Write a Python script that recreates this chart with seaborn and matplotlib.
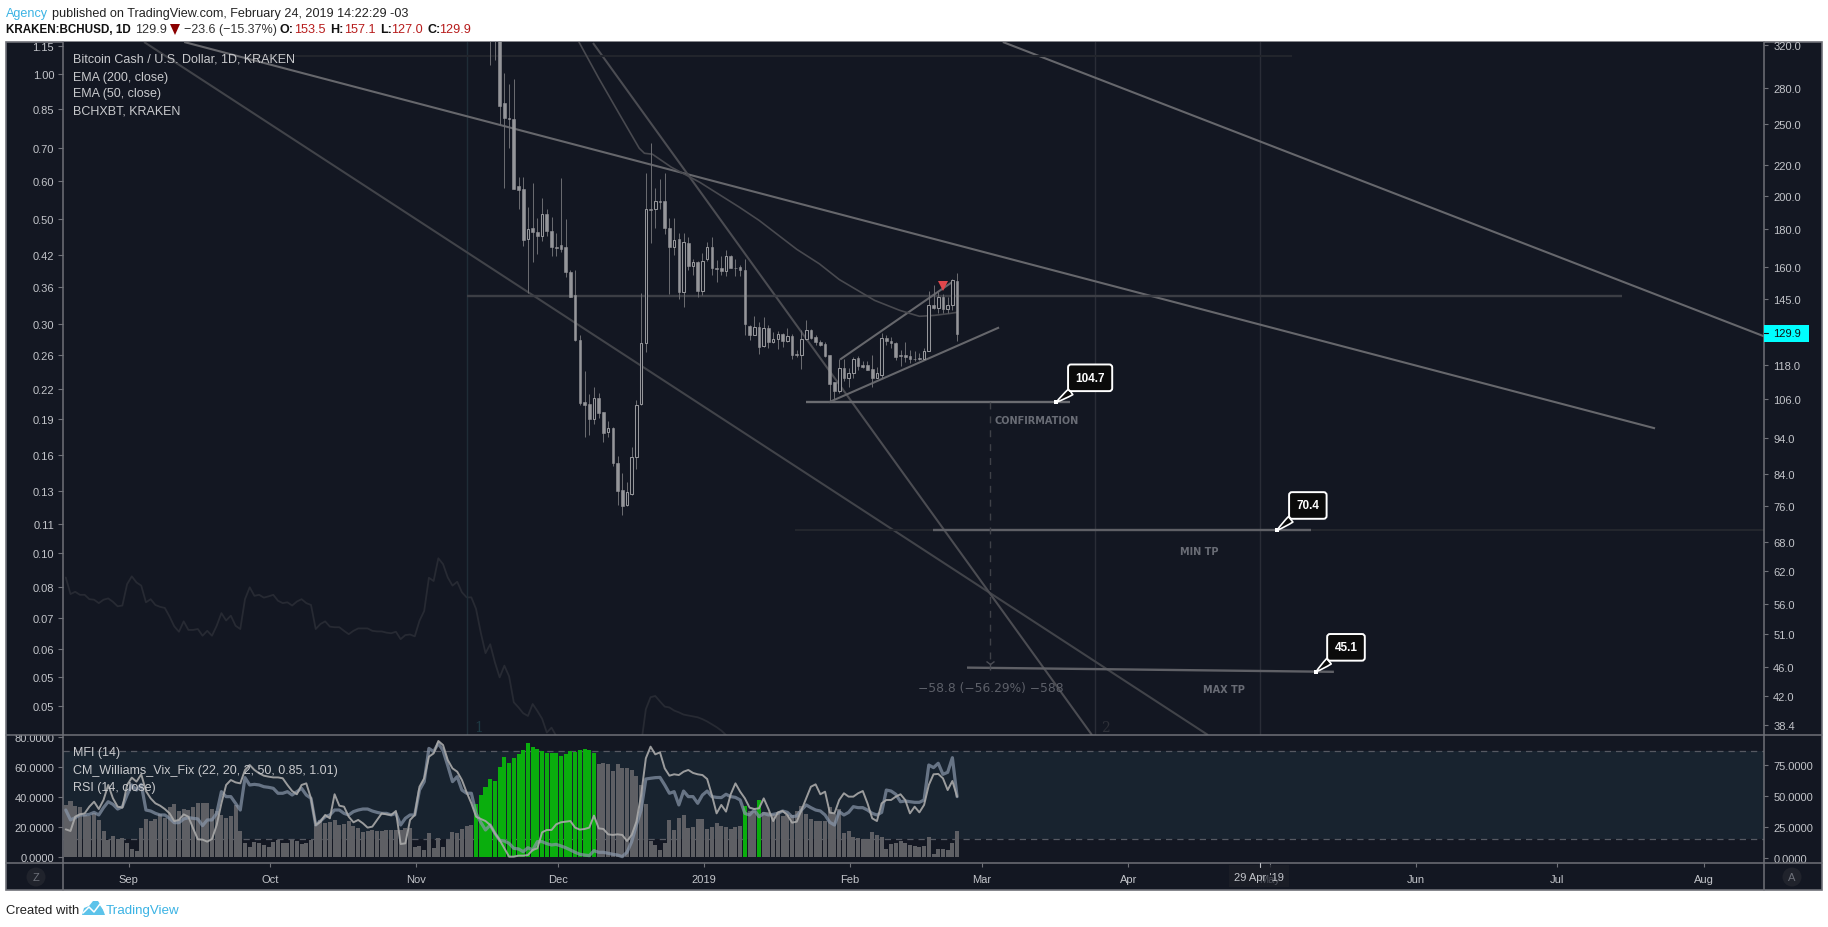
import numpy as np
import matplotlib
matplotlib.use('Agg')
import matplotlib.pyplot as plt
import seaborn as sns
from matplotlib.lines import Line2D
from matplotlib.patches import Rectangle, Polygon, Circle
from matplotlib.transforms import Affine2D, Bbox
from matplotlib.ticker import NullLocator

W, H = 1828, 928
BG = '#131722'
BAND = '#18232f'
FRAME = '#6f7178'
AXTXT = '#c3c5ca'
BLUE = '#3bb3e4'
RED = '#b71c1c'

# x values are days since 1 Sep 2018
TICK_DAYS = [0, 30, 61, 91, 122, 153, 181, 212, 242, 273, 303, 334]
TICK_NAMES = ['Sep', 'Oct', 'Nov', 'Dec', '2019', 'Feb', 'Mar', 'Apr', 'May', 'Jun', 'Jul', 'Aug']
FIRST_BAR_DAY = -13.3
FIRST_CANDLE = 90

RIGHT_TICKS = [320, 280, 250, 220, 200, 180, 160, 145, 118, 106, 94, 84, 76, 68, 62, 56, 51, 46, 42, 38.4]
LEFT_TICKS = [1.144, 1.0, 0.845, 0.70, 0.598, 0.498, 0.419, 0.359, 0.30, 0.259, 0.22, 0.19, 0.16, 0.135,
              0.115, 0.10, 0.085, 0.073, 0.063, 0.055, 0.048]
LEFT_LABELS = ['1.15', '1.00', '0.85', '0.70', '0.60', '0.50', '0.42', '0.36', '0.30', '0.26', '0.22', '0.19',
               '0.16', '0.13', '0.11', '0.10', '0.08', '0.07', '0.06', '0.05', '0.05']

OHLC = [
    (345, 360, 300.6, 330), (340, 355, 305, 325), (335, 340, 249, 264.6), (267, 293, 204.6, 255),
    (255, 283.4, 232, 254), (254, 288, 204.2, 204.5), (206.4, 211.9, 191.9, 203.6), (204, 212.3, 171.1, 174.2),
    (174.7, 193.3, 147.7, 180), (181, 207.9, 162.4, 178.7), (178.7, 186.7, 166.5, 176.3), (176.3, 198.4, 173.8, 189.1),
    (189.1, 191.7, 176.5, 179.1), (179.4, 187, 165.7, 170.4), (170.5, 177.8, 165.6, 170), (171.6, 211.2, 168, 169.3),
    (170.2, 185.7, 155, 157.4), (157.6, 158.4, 145.7, 146), (146.6, 158.4, 127.2, 127.5), (127.6, 129.6, 104.1, 104.9),
    (105.1, 115.8, 94.1, 104.1), (104.3, 107.8, 94.7, 99.8), (99.6, 110.1, 98, 106.4), (106.4, 108.1, 100, 101.6),
    (101.9, 102, 92.7, 95.5), (95.6, 99.1, 94.2, 97), (97, 97.2, 86.2, 87), (87, 88.9, 76.2, 79.7),
    (79.8, 84.3, 73.9, 76.1), (76.2, 82, 76.1, 79.3), (78.8, 91.3, 78.7, 88.6), (88.6, 105.7, 85.3, 104.1),
    (104.4, 147.7, 104.1, 126.2), (126.2, 214.4, 122.8, 192), (192, 235.5, 172.4, 191.2), (191.8, 204.6, 181, 196.5),
    (196.7, 210.5, 191.8, 196.3), (196.5, 214.4, 177.3, 180.6), (180.6, 186.4, 147.3, 170.4), (170.4, 186.4, 166, 174.3),
    (174.8, 177.8, 145.1, 147.9), (148, 177.8, 141.4, 173.1), (172.8, 176, 158.7, 160.4), (160.8, 164.3, 156, 162.7),
    (162.7, 163, 145.7, 148.5), (148.5, 167.5, 146.6, 163.2), (164.1, 173.1, 163.2, 170.5), (170.5, 176, 156, 159.5),
    (159.5, 163.5, 152.6, 159.2), (159.8, 165.6, 156, 158.2), (158.2, 168.6, 155.7, 165.7), (165.7, 166, 159.5, 159.8),
    (159.8, 164.3, 155.5, 159.6), (160.3, 161.1, 155.8, 158.5), (158.8, 164.3, 129.5, 134), (133.3, 133.6, 127.5, 129.5),
    (129.5, 137.5, 129.5, 132.9), (132.9, 134.8, 122, 124.7), (125, 137.1, 124.7, 132.5), (132.5, 133.6, 124.4, 126.7),
    (126.7, 130.8, 126.2, 127.9), (127.9, 131.3, 124.1, 130), (130, 130.5, 124.8, 127.1), (127.1, 132.2, 126.9, 129.2),
    (129.2, 130.1, 120, 121.8), (122, 123.7, 121, 121.5), (121.5, 131.5, 116.4, 127.9), (127.9, 135.6, 127.5, 131.5),
    (131.5, 131.9, 127.9, 128.2), (128.7, 129.5, 125.5, 126.6), (126.8, 127.5, 125.3, 125.5), (125.9, 126.6, 121, 121.3),
    (121.5, 121.6, 105.3, 111.2), (111.8, 111.8, 106.2, 108.7), (108.7, 120.1, 108.1, 116.9), (116.9, 120.3, 112.3, 113.1),
    (113.1, 116.7, 110.2, 114.9), (114.9, 121, 113.3, 120.1), (120.6, 121.2, 116.2, 117.5), (118.1, 119.6, 116.9, 117.4),
    (118.1, 119.5, 116.2, 116.3), (116.6, 121.6, 110, 113.4), (113.4, 117.3, 113.1, 114.9), (114.4, 130.3, 113.1, 128.3),
    (128.3, 129.6, 125.5, 127), (127.3, 128.7, 124.5, 126.2), (126.4, 126.7, 119.8, 120.9), (121.6, 123.5, 117.5, 121.2),
    (121.7, 126.6, 119.1, 121), (121.3, 123.5, 118.8, 120.1), (120.3, 123.4, 119.6, 120), (120.4, 122.3, 119.8, 120.1),
    (120.3, 124.5, 120.1, 123.2), (123.1, 148.8, 123.1, 142.2), (142.2, 151.5, 140.6, 141), (141, 148, 138.9, 145.6),
    (145.7, 147.2, 138.7, 140.6), (140.6, 145.7, 138.7, 142.4), (142.4, 154.1, 140, 153.8), (153.5, 157.1, 127, 129.9),
]

BCHXBT_HEAD = [
    .0889, .0821, .0830, .0818, .0818, .0801, .0799, .0786, .0799, .0804,
    .0791, .0774, .0777, .0861, .0894, .0868, .0855, .0789, .0801, .0779,
    .0772, .0768, .0737, .0703, .0685, .0720, .0691, .0691, .0694, .0672,
    .0688, .0672, .0705, .0749, .0723, .0740, .0705, .0694, .0801, .0848,
    .0814, .0818, .0807, .0812, .0818, .0795, .0786, .0789, .0777, .0792,
    .0801, .0786, .0779, .0694, .0711, .0720, .0702, .0700, .0700, .0688,
    .0677, .0688, .0696, .0696, .0696, .0688, .0686, .0686, .0682, .0680,
    .0685, .0661, .0674, .0676, .0670, .0722, .0757, .0888, .0874, .0975,
    .0948, .0889, .0855, .0871, .0828, .0808, .0808, .0764, .0682, .0618,
    .0645, .0591, .0550, .0582, .0553, .0488, .0476, .0463, .0457, .0484,
    .0468, .0451, .0422, .0432, .0415,
]
# the line runs below the pane between these two stretches
BCHXBT_TAIL_START = 122
BCHXBT_TAIL = [.0399, .0472, .0500, .0503, .0490, .0478, .0476, .0469, .0465, .0460,
               .0458, .0456, .0454, .0450, .0445, .0439, .0433, .0426, .0417]

EMA50_DAYS = [95.4, 99.7, 104.1, 108.3, 109.4, 111.1, 115.1, 121.1, 129.5, 133.7, 141.7, 146.5, 150.7, 158.2, 163.5,
              167.7, 170.9, 174.1, 175.7]
EMA50 = [324, 288.6, 257.9, 231.9, 228.3, 227.6, 218.6, 208.6, 193, 185.2, 169.2, 161.7, 154, 144.3, 139.9, 137.3,
         137.7, 138.5, 139]

VIX = [
    34.9, 37.1, 33.8, 33.1, 27.8, 26.9, 29.5, 24.7, 17.1, 10.9,
    13.8, 11.8, 12.4, 8.9, 4.9, 3.5, 19.1, 25.1, 23.8, 25.1,
    28.4, 26.2, 33.5, 35.3, 30.4, 31.8, 31.1, 33.1, 36.2, 35.8,
    36.2, 31.8, 30.4, 27.8, 26.2, 27.1, 34.4, 17.1, 9.1, 6.7,
    9.8, 9.1, 7.8, 6.7, 10.0, 11.1, 9.5, 9.5, 11.5, 10.6,
    8.7, 9.5, 11.3, 21.1, 24.4, 22.4, 22.9, 24.4, 21.5, 22.2,
    24.2, 20.4, 18.9, 16.7, 17.1, 18.2, 17.1, 17.1, 17.8, 17.8,
    18, 18, 19.1, 19.5, 6.2, 7.1, 4.2, 16, 5.5, 12.2,
    6.2, 11.1, 16.2, 15.8, 18.4, 20.4, 21.1,
    35.1, 41.5, 46.7, 51.8, 50.9, 59.8, 66.4, 62.7, 66, 68.7, 71.5, 75.8, 73.1,
    72.2, 70.7, 69.3, 69.3, 69.3, 67.3, 68.7, 70.4, 70, 71.5, 72.2, 71.5, 69.3,
    61.8, 62.7, 61.8, 57.3, 61.8, 59.5, 59.5, 57.8, 54, 47.8,
    35.5, 10.4, 7.8, 4.4, 9.5, 24.4, 17.8, 25.8, 27.8, 19.3,
    19.8, 25.5, 25.1, 18.4, 19.8, 22.4, 20.4, 20, 18.4, 19.8,
    20.4, 33.8, 30.4, 30.4, 37.8, 30, 29.8, 28.7, 29.8, 27.3,
    27.8, 28.2, 30.4, 34, 28.9, 25.1, 23.8, 23.8, 23.8, 33.5,
    28.4, 31.8, 15.8, 17.1, 13.5, 12.4, 11.8, 11.8, 16.2, 14.4,
    13.5, 5.1, 8.4, 8.9, 10.2, 9.1, 7.8, 6.9, 6.7, 7.1,
    13.1, 1.5, 5.1, 5.1, 4.2, 9.1, 17.1,
]
VIX_GREEN = list(range(87, 113)) + [144, 147]

RSI = [
    23.1, 21.8, 33.3, 35.2, 36, 41.4, 45.4, 39.5, 46.8, 58.9,
    48.1, 41.4, 40.6, 58.9, 64.8, 61.6, 67.5, 54, 48.1, 44.1,
    42.2, 39.5, 36, 29.8, 30.7, 35.2, 33.3, 23.9, 15.1, 14.8,
    13.2, 15.3, 26.6, 44.1, 58.9, 62.9, 61, 60.2, 71, 75,
    71, 68.3, 66.4, 65.6, 65, 65, 64.3, 58.9, 54, 51.4,
    58.9, 60.2, 48.1, 26.6, 29.3, 34.7, 32, 51.4, 42.2, 41.4,
    33.3, 28.8, 30.7, 28, 24.5, 25.3, 30.7, 36, 35.2, 34.7,
    37.9, 11.3, 11.8, 30.7, 34.7, 57.5, 64.3, 81.7, 84.4, 94.4,
    91.1, 79, 72.3, 69.6, 62.9, 53, 44.1, 33.3, 31.5, 29.8,
    26.6, 19.9, 14.5, 7.8, 1.1, 1.1, 1.9, 1.9, 2.4, 6.5,
    7.8, 20.7, 22.6, 22.6, 27.2, 28.8, 29.3, 29.8, 24.5, 22.9,
    23.4, 24.5, 34.2, 23.9, 23.4, 19.1, 18.6, 19.1, 18.6, 13.7,
    18.6, 29.3, 50.8, 80.4, 89.8, 83.6, 85.2, 72.3, 66.4, 67.5,
    66.9, 69.6, 71, 68.6, 67.5, 66.9, 63.7, 50.8, 36, 42.8,
    37.4, 51.4, 60.2, 53.5, 48.1, 40.6, 39.5, 40.1, 48.1, 39.5,
    29.8, 36.8, 37.9, 34.7, 28.5, 29.3, 38.7, 48.1, 57.5, 59.4,
    51.4, 53.5, 36.6, 36, 46.8, 52.2, 49.5, 49.5, 52.2, 54,
    44.1, 32, 29.8, 44.1, 46.8, 46.8, 49.5, 51.4, 46.8, 36,
    41.4, 36.8, 42.8, 58.9, 67.5, 67.8, 64.3, 54.8, 62.1, 49.5,
]

MFI = [
    38.7, 30.7, 32.5, 34.7, 34.7, 35.2, 36.8, 34.7, 40.6, 45.4,
    43.3, 39.5, 41.4, 50.8, 58.9, 54.8, 59.4, 38.7, 37.9, 36,
    34.7, 34.7, 32, 28.5, 28.5, 31.5, 32.5, 32, 31.5, 26.1,
    30.7, 30.7, 36, 53.5, 49.5, 49.5, 44.1, 38.7, 64.8, 58.9,
    59.4, 58.9, 57.5, 57, 56.2, 52.2, 52.2, 53.5, 50.8, 53.5,
    56.2, 50.8, 48.1, 26.6, 29.8, 33.3, 34.7, 38.7, 38.7, 36,
    34.7, 37.4, 38.7, 39.5, 39.5, 37.9, 36.8, 36, 36, 34.7,
    36, 26.6, 32, 34.7, 34.7, 54.8, 61.6, 88.4, 85.8, 92.5,
    86.6, 74.5, 61.6, 65.6, 54.8, 52.2, 52.2, 36, 28.8, 22.6,
    26.6, 19.9, 14.3, 13.7, 11.8, 7.8, 7.3, 5.1, 8.3, 6.5,
    13.2, 13.2, 11.6, 10.5, 11, 9.7, 8.3, 6.5, 4.6, 3,
    2.4, 1.9, 5.9, 4.6, 4.6, 3.8, 3, 2.4, 1.1, 4.6,
    13.2, 26.6, 38.7, 63.7, 64.3, 64.8, 65, 58.9, 52.2, 53.5,
    42.8, 54, 49.5, 49.5, 44.1, 50.8, 54, 49.5, 48.9, 48.7,
    51.4, 49.5, 48.9, 46.8, 36, 34.7, 38.7, 33.3, 36, 34.7,
    35.2, 36, 37.9, 36.8, 33.3, 33.9, 38.7, 42.8, 40.6, 38.7,
    37.9, 34.7, 28.8, 26.6, 37.4, 34.7, 36.8, 41.4, 40.6, 40.6,
    38.7, 36, 34.7, 36.8, 54.8, 54, 51.4, 45.4, 46, 45.4,
    44.9, 44.9, 46.8, 75, 72.9, 76.4, 67.5, 69.1, 80.9, 49.5,
]

# drawing tools on the price pane: (days, prices)
TREND_LINES = [
    ([11.8, 323.7], [323, 96.8], '#66676c', 1.5),
    ([3.3, 228.9], [323, 37.2], '#414349', 1.5),
    ([98.5, 204.3], [322, 37.2], '#4b4c52', 1.5),
    ([185.4, 346.8], [323, 129], '#66676c', 1.5),
    ([24.7, 246.7], [309, 309], '#22252c', 1.5),
    ([71.8, 316.7], [146.4, 146.4], '#3c3e45', 1.7),
    ([143.7, 199.6], [105, 105], '#6b6c71', 1.7),
    ([150.9, 174.8], [120, 153], '#66676c', 1.5),
    ([148.5, 184.6], [105, 132.6], '#66676c', 1.5),
    ([141.3, 346.8], [70.4, 70.4], '#23262d', 1.5),
    ([170.6, 250.7], [70.4, 70.4], '#5f6066', 1.7),
    ([177.8, 255.6], [45.9, 45.3], '#5f6066', 1.7),
]
V_LINES = [(71.8, '#1f2d37'), (204.9, '#2a2d37'), (239.9, '#2a2d37')]
MEASURE_DAY = 182.7
MEASURE_PRICES = [105, 46.4]
CALLOUTS = [('104.7', 196.7, 105, 34, 24.5), ('70.4', 243.5, 70.4, 31, 25), ('45.1', 251.8, 45.3, 30, 24.5)]
LAST_PRICE = 129.9

sns.set_theme(style='dark', rc={'axes.facecolor': BG, 'figure.facecolor': 'white', 'axes.grid': False})
plt.rcParams['font.family'] = ['Liberation Sans', 'DejaVu Sans']

fig = plt.figure(figsize=(W / 100, H / 100), dpi=100, facecolor='white')
px = Affine2D().scale(1 / W, -1 / H).translate(0, 1) + fig.transFigure


def pane(x0, y0, x1, y1):
    return fig.add_axes([x0 / W, 1 - y1 / H, (x1 - x0) / W, (y1 - y0) / H])


def ptext(x, y, s, **kw):
    kw.setdefault('va', 'center')
    return fig.text(x, y, s, transform=px, **kw)


def clip_labels(labels, y0, y1):
    box = Bbox([[0, H - y1], [W, H - y0]])
    for lab in labels:
        lab.set_clip_box(box)
        lab.set_clip_on(True)


fig.add_artist(Rectangle((6, 43), 1816, 848, transform=px, fc=BG, ec=FRAME, lw=1.2, zorder=-2))

# price pane
ax_left = pane(63, 43, 1764, 736)
ax = ax_left.twinx()
ax_left.set_zorder(1)
ax.set_zorder(2)
ax.patch.set_visible(False)
ax_left.set_yscale('log')
ax.set_yscale('log')

days = FIRST_BAR_DAY + np.arange(len(VIX))
for a, vals, start in [(ax_left, BCHXBT_HEAD, 0), (ax_left, BCHXBT_TAIL, BCHXBT_TAIL_START)]:
    sns.lineplot(x=days[start:start + len(vals)], y=vals, ax=a, color='#272a33', linewidth=1.3,
                 estimator=None, sort=False)

for d, col in V_LINES:
    ax_left.axvline(d, color=col, lw=1)
ax_left.text(73.3, 0.0433, '1', color='#1e3a44', fontsize=10, family='DejaVu Serif', va='center')
ax_left.text(206.2, 0.0433, '2', color='#2e3038', fontsize=10, family='DejaVu Serif', va='center')

for xs, ys, col, lw in TREND_LINES:
    ax.plot(xs, ys, color=col, lw=lw, solid_capstyle='butt', zorder=2)
sns.lineplot(x=EMA50_DAYS, y=EMA50, ax=ax, color='#48494f', linewidth=1.2, estimator=None, sort=False, zorder=2)

ax.plot([MEASURE_DAY] * 2, MEASURE_PRICES, color='#3f4148', lw=1, ls=(0, (5, 5)), zorder=2)
ax.plot([MEASURE_DAY], [MEASURE_PRICES[1]], marker='1', color='#4a4c54', ms=8, zorder=2)

ohlc = np.array(OHLC, dtype=float)
c_days = days[FIRST_CANDLE:]
ax.vlines(c_days, ohlc[:, 2], ohlc[:, 1], color='#6c6d72', lw=0.7, zorder=3)
for d, (o, h_, l_, c) in zip(c_days, ohlc):
    if c > o:
        ax.bar(d, c - o, bottom=o, width=0.56, fc=BG, ec='#95969a', lw=0.75, zorder=4)
    else:
        ax.bar(d, o - c, bottom=c, width=0.56, fc='#95969a', ec='#95969a', lw=0.4, zorder=4)

ax.plot([172.7], [150.7], marker='v', color='#e0474c', ms=6.5, mew=0, zorder=5)

for txt, d, p, dx, dy in CALLOUTS:
    ax.plot([d], [p], marker='s', color='white', ms=3, mew=0, zorder=7)
    ax.annotate(txt, xy=(d, p), xytext=(dx, dy), textcoords='offset pixels', ha='center', va='center',
                color='white', fontsize=8.5, fontweight='bold', zorder=6,
                bbox=dict(boxstyle='round,pad=0.62,rounding_size=0.25', fc='#0a0a0a', ec='white', lw=1.4),
                arrowprops=dict(arrowstyle='wedge,tail_width=0.6,shrink_factor=0.6', fc='#0a0a0a', ec='white',
                                lw=1.2, shrinkA=0, shrinkB=0))

for s, d, p in [('CONFIRMATION', 192.6, 99.4), ('MIN TP', 227.1, 66.05), ('MAX TP', 232.3, 42.9)]:
    ax.text(d, p, s, color='#696c75', fontsize=7, fontweight='bold', family='DejaVu Sans', ha='center', va='center')
ax.text(182.8, 43.1, '\u221258.8 (\u221256.29%) \u2212588', color='#5d6069', fontsize=8.8, family='DejaVu Sans',
        ha='center', va='center')

ax.set_xlim(-13.89, 346.8)
ax_left.set_xlim(-13.89, 346.8)
ax.set_ylim(37.2, 323)
ax_left.set_ylim(0.0417, 1.166)

ax_left.set_yticks(LEFT_TICKS)
ax_left.set_yticklabels(LEFT_LABELS)
ax.set_yticks(RIGHT_TICKS)
ax.set_yticklabels([f'{v:.1f}' for v in RIGHT_TICKS])
ax_left.yaxis.set_minor_locator(NullLocator())
ax.yaxis.set_minor_locator(NullLocator())
ax_left.set_xticks([])
ax_left.tick_params(axis='y', left=True, length=3.4, width=0.8, color=FRAME, labelcolor=AXTXT, labelsize=8, pad=3)
ax.tick_params(axis='y', right=True, left=False, length=3, width=0.8, color=FRAME, labelcolor=AXTXT, labelsize=8, pad=3.6)
clip_labels(ax_left.get_yticklabels(), 43, 736)
clip_labels(ax.get_yticklabels(), 43, 736)

# oscillator pane
ax_vix = pane(63, 736, 1764, 864)
ax_rsi = ax_vix.twinx()
ax_vix.set_zorder(1)
ax_rsi.set_zorder(2)
ax_rsi.patch.set_visible(False)

ax_vix.axhspan(11.6, 70.9, color=BAND, lw=0)
for v in (11.6, 70.9):
    ax_vix.axhline(v, color='#565962', lw=0.9, ls=(0, (5, 4)))

bar_flag = ['green' if i in VIX_GREEN else 'gray' for i in range(len(VIX))]
sns.barplot(x=days, y=VIX, hue=bar_flag, palette={'green': '#0aae0d', 'gray': '#5e5f64'}, native_scale=True,
            dodge=False, width=0.85, saturation=1, linewidth=0, legend=False, ax=ax_vix, zorder=2)

sns.lineplot(x=days, y=MFI, ax=ax_rsi, color='#8a97ab', linewidth=2.3, alpha=0.7, estimator=None, sort=False)
sns.lineplot(x=days, y=RSI, ax=ax_rsi, color='#aaaaaa', linewidth=1.4, alpha=0.9, estimator=None, sort=False)

ax_vix.set_xlim(-13.89, 346.8)
ax_rsi.set_xlim(-13.89, 346.8)
ax_vix.set_ylim(-4.2, 81.4)
ax_rsi.set_ylim(-4.03, 99.2)
ax_vix.set_yticks([0, 20, 40, 60, 80])
ax_vix.set_yticklabels([f'{v:.4f}' for v in [0, 20, 40, 60, 80]])
ax_rsi.set_yticks([0, 25, 50, 75])
ax_rsi.set_yticklabels([f'{v:.4f}' for v in [0, 25, 50, 75]])
ax_vix.set_xticks(TICK_DAYS)
ax_vix.set_xticklabels(TICK_NAMES)
ax_vix.tick_params(axis='y', left=True, length=3.4, width=0.8, color=FRAME, labelcolor=AXTXT, labelsize=8, pad=3)
ax_vix.tick_params(axis='x', bottom=True, length=3, width=0.8, color=FRAME, labelcolor=AXTXT, labelsize=8, pad=5)
ax_rsi.tick_params(axis='y', right=True, left=False, length=3, width=0.8, color=FRAME, labelcolor=AXTXT, labelsize=8, pad=3.6)
clip_labels(ax_vix.get_yticklabels(), 736, 864)
clip_labels(ax_rsi.get_yticklabels(), 736, 864)
ax_vix.set_xlabel('')
ax_vix.set_ylabel('')
ax_rsi.set_ylabel('')
ax.set_ylabel('')
ax_left.set_ylabel('')

for a in (ax, ax_left, ax_vix, ax_rsi):
    for s in a.spines.values():
        s.set_visible(False)

# pane dividers
for xs, ys in [((6, 1822), (736, 736)), ((6, 1822), (864, 864)), ((63, 63), (43, 891)), ((1764, 1764), (43, 891))]:
    fig.add_artist(Line2D(xs, ys, transform=px, color=FRAME, lw=1.1, zorder=5))

# legends
for y, s in [(60, 'Bitcoin Cash / U.S. Dollar, 1D, KRAKEN'), (77.5, 'EMA (200, close)'), (94.5, 'EMA (50, close)'),
             (111.5, 'BCHXBT, KRAKEN'), (753, 'MFI (14)'), (771, 'CM_Williams_Vix_Fix (22, 20, 2, 50, 0.85, 1.01)'),
             (788, 'RSI (14, close)')]:
    ptext(73, y, s, color='#c9cacd', fontsize=9, zorder=6)

# last price tag
fig.add_artist(Rectangle((1764, 326), 45, 17, transform=px, fc='#00ffff', ec='none', zorder=6))
fig.add_artist(Line2D((1764, 1768), (334, 334), transform=px, color='#0a0a0a', lw=0.8, zorder=7))
ptext(1773, 334.5, f'{LAST_PRICE:.1f}', color='#111111', fontsize=8, zorder=7)

# crosshair date label, sits over the May tick label
fig.add_artist(Rectangle((1229, 866), 60, 22, transform=px, fc='#1d2029', ec='none', alpha=0.7, zorder=6))
ptext(1259, 878, "29 Apr '19", color=AXTXT, fontsize=8, ha='center', zorder=7)
fig.add_artist(Line2D((1260, 1260), (864, 868), transform=px, color='#c3c5ca', lw=0.8, zorder=7))

# corner badges
for x, s in [(36, 'Z'), (1792, 'A')]:
    fig.add_artist(Circle((x, 878), 9.5, transform=px, fc='#20232c', ec='none', zorder=6))
    ptext(x, 878, s, color='#6d7079', fontsize=8, ha='center', zorder=7)

# header
ptext(6, 14, 'Agency', color=BLUE, fontsize=9.1)
ptext(52, 14, 'published on TradingView.com, February 24, 2019 14:22:29 -03', color='#222222', fontsize=9.1)
ptext(6, 30, 'KRAKEN:BCHUSD, 1D', color='#111111', fontsize=8.4, fontweight='bold')
ptext(135, 30, '129.9', color='#333333', fontsize=9.1)
fig.add_artist(Polygon([(170, 25), (180, 25), (175, 36)], transform=px, fc='#8b0000', ec='none'))
ptext(184, 30, '\u221223.6 (\u221215.37%)', color='#333333', fontsize=9)
for x, s in [(280, 'O:'), (330, 'H:'), (380, 'L:'), (427, 'C:')]:
    ptext(x, 30, s, color='#111111', fontsize=9, fontweight='bold')
for x, s in [(294, '153.5'), (344, '157.1'), (391, '127.0'), (439, '129.9')]:
    ptext(x, 30, s, color=RED, fontsize=9.1)

# footer
ptext(6, 911, 'Created with', color='#222222', fontsize=9.4)
ptext(106, 911, 'TradingView', color=BLUE, fontsize=9.6)
fig.add_artist(Polygon([(82, 916), (84, 909), (89, 907), (93, 902), (98, 902), (102, 908), (105, 916)],
                       transform=px, fc='#5cc3ea', ec='none'))
fig.add_artist(Line2D((83, 89, 94, 100, 105), (914, 908, 913, 905, 912), transform=px, color='white', lw=1.1))

fig.savefig('out.png', dpi=100, facecolor='white')
